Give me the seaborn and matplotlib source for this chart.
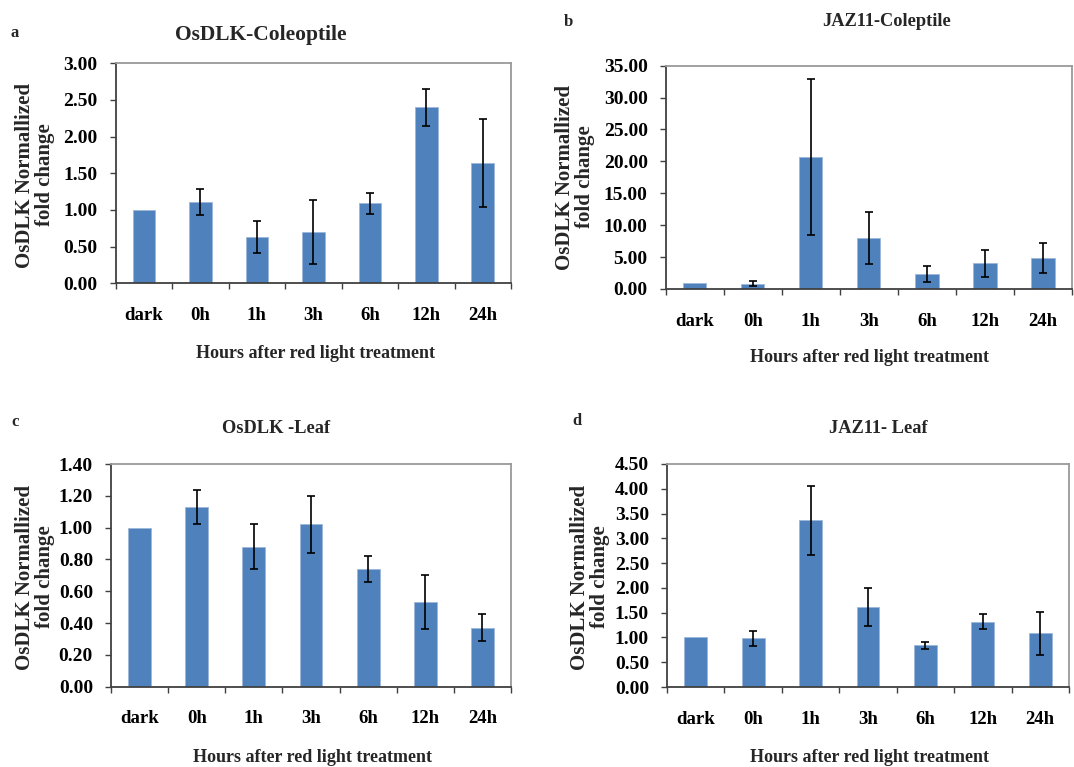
import numpy as np
import pandas as pd
import seaborn as sns
import matplotlib
matplotlib.use("Agg")
import matplotlib.pyplot as plt

categories = ["dark", "0h", "1h", "3h", "6h", "12h", "24h"]

a_vals = [1.00, 1.11, 0.63, 0.70, 1.09, 2.40, 1.64]
a_err = [0.0, 0.18, 0.22, 0.43, 0.14, 0.25, 0.60]

b_vals = [1.00, 0.80, 20.70, 8.00, 2.30, 4.00, 4.90]
b_err = [0.0, 0.40, 12.20, 4.10, 1.25, 2.05, 2.35]

c_vals = [1.00, 1.13, 0.88, 1.02, 0.74, 0.53, 0.37]
c_err = [0.0, 0.105, 0.14, 0.18, 0.08, 0.17, 0.085]

d_vals = [1.00, 0.98, 3.36, 1.62, 0.84, 1.32, 1.08]
d_err = [0.0, 0.15, 0.70, 0.38, 0.065, 0.15, 0.43]

titles = ["OsDLK-Coleoptile", "JAZ11-Coleptile", "OsDLK -Leaf", "JAZ11- Leaf"]
letters = ["a", "b", "c", "d"]
ylims = [(0, 3.0), (0, 35.0), (0, 1.4), (0, 4.5)]
ysteps = [0.5, 5.0, 0.2, 0.5]
ylabel = "OsDLK Normallized\nfold change"
xlabel = "Hours after red light treatment"

sns.set_theme(style="white")
plt.rcParams["font.family"] = ["Liberation Serif", "DejaVu Serif"]

W, H = 1074, 767
fig = plt.figure(figsize=(W / 100, H / 100), dpi=100)

def fx(px):
    return px / W

def fy(py):
    return 1 - py / H

# axes boxes in pixels: left, top, right, bottom
boxes = [
    (115.7, 63.3, 511, 283.3),
    (665.7, 65.7, 1072, 289),
    (111, 464, 511, 686.7),
    (667, 464, 1069, 687),
]
title_pos = [(261, 35, 15.5), (887, 21, 13.2), (276, 429, 13.2), (878, 429, 13.2)]
letter_pos = [(15, 33), (568, 22), (15, 422), (577, 421)]
ylabel_pos = [(35, 175), (575, 177), (35, 577), (590, 577)]
xlabel_pos = [(315, 353), (869, 358), (312, 757), (870, 757)]

series = [(a_vals, a_err), (b_vals, b_err), (c_vals, c_err), (d_vals, d_err)]
bar_color = "#4F81BD"

for i, (vals, errs) in enumerate(series):
    l, t, r, b = boxes[i]
    ax = fig.add_axes([fx(l), fy(b), (r - l) / W, (b - t) / H])
    df = pd.DataFrame({"time": categories, "value": vals})
    sns.barplot(data=df, x="time", y="value", color=bar_color, saturation=1,
                width=0.4, errorbar=None, edgecolor="#9DB7DA", linewidth=0.6, ax=ax)
    xs = np.arange(len(categories))
    e = np.array(errs)
    mask = e > 0
    ax.errorbar(xs[mask], np.array(vals)[mask], yerr=e[mask], fmt="none",
                ecolor="black", elinewidth=1.2, capsize=3, capthick=1.2, zorder=5)
    ax.set_xlim(-0.5, len(categories) - 0.5)
    ax.set_ylim(*ylims[i])
    ax.set_yticks(np.arange(ylims[i][0], ylims[i][1] + ysteps[i] / 2, ysteps[i]))
    ax.yaxis.set_major_formatter(matplotlib.ticker.FormatStrFormatter("%.2f"))
    # x ticks at boundaries, labels at centres
    ax.set_xticks(np.arange(-0.5, len(categories), 1.0))
    ax.set_xticklabels([""] * (len(categories) + 1))
    ax.set_xticks(xs, minor=True)
    ax.set_xticklabels(categories, minor=True)
    ax.tick_params(axis="x", which="major", direction="out", length=4.5, width=1,
                   color="#404040", bottom=True)
    ax.tick_params(axis="x", which="minor", length=0, pad=17, labelsize=13.5,
                   labelcolor="black")
    ax.tick_params(axis="y", which="major", direction="out", length=4, width=1,
                   color="#404040", left=True, pad=9, labelsize=14, labelcolor="black")
    for lab in ax.get_xticklabels(minor=True):
        lab.set_fontweight("bold")
    for lab in ax.get_yticklabels():
        lab.set_fontweight("bold")
    ax.set_xlabel("")
    ax.set_ylabel("")
    for side in ["top", "right"]:
        ax.spines[side].set_color("#9a9a9a")
        ax.spines[side].set_linewidth(1.3)
    for side in ["left", "bottom"]:
        ax.spines[side].set_color("#404040")
        ax.spines[side].set_linewidth(1.3)
    ax.grid(False)

    tx, ty, ts = title_pos[i]
    fig.text(fx(tx), fy(ty), titles[i], ha="center", va="center",
             fontsize=ts, fontweight="bold")
    lx, ly = letter_pos[i]
    fig.text(fx(lx), fy(ly), letters[i], ha="center", va="center",
             fontsize=12, fontweight="bold")
    yx, yy = ylabel_pos[i]
    fig.text(fx(yx), fy(yy), ylabel, ha="center", va="center", rotation=90,
             fontsize=15, fontweight="bold", linespacing=1.0, multialignment="center")
    xx, xy = xlabel_pos[i]
    fig.text(fx(xx), fy(xy), xlabel, ha="center", va="center",
             fontsize=13, fontweight="bold")

fig.savefig("out.png", dpi=100, facecolor="white")
